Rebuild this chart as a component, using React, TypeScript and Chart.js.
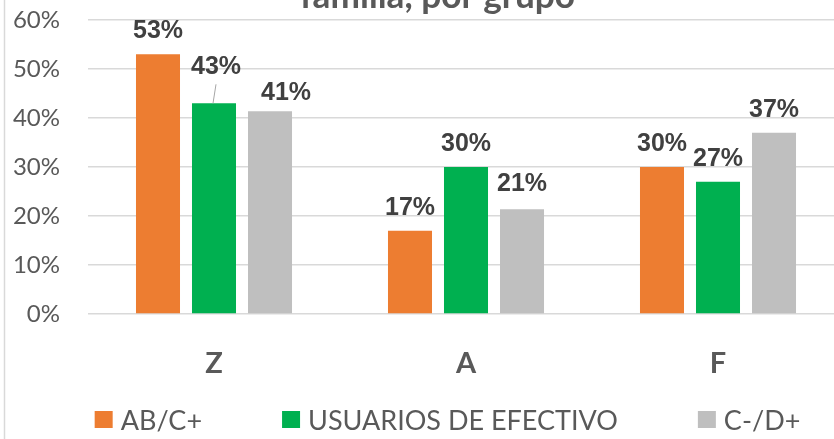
import React, { useEffect, useRef } from 'react';
import { Chart, registerables } from 'chart.js';

Chart.register(...registerables);

const categories = ['Z', 'A', 'F'];
const seriesNames = ['AB/C+', 'USUARIOS DE EFECTIVO', 'C-/D+'];
const abcPlus = [53, 17, 30];
const usuariosEfectivo = [43, 30, 27];
const cdPlus = [41.4, 21.4, 37];
const yMax = 60;
const yStep = 10;
const titleText = 'familia, por grupo';

const seriesColors = ['#ED7D31', '#00B050', '#BFBFBF'];
const AXIS_FONT = 'Lato';
const LABEL_FONT = '"Liberation Sans"';

// manual nudges of some data labels (as in the reference)
const labelNudge: Record<string, { dx: number; dy: number; leader?: boolean }> = {
  '1-0': { dx: 2, dy: -13, leader: true },
  '2-0': { dx: 16, dy: 5 },
  '2-1': { dx: 0, dy: -2 },
};

const CANVAS_W = 891;
const CANVAS_H = 439;

const decorPlugin = {
  id: 'decor',
  beforeDraw(chart: any) {
    const ctx = chart.ctx;
    ctx.save();
    ctx.strokeStyle = '#d9d9d9';
    ctx.lineWidth = 1.5;
    ctx.beginPath();
    ctx.moveTo(4.5, 0);
    ctx.lineTo(4.5, CANVAS_H);
    ctx.stroke();
    ctx.restore();
  },
  afterDatasetsDraw(chart: any) {
    const ctx = chart.ctx;
    ctx.save();
    ctx.font = `bold 25px ${LABEL_FONT}`;
    ctx.fillStyle = '#404040';
    ctx.textAlign = 'center';
    ctx.textBaseline = 'alphabetic';
    chart.data.datasets.forEach((ds: any, di: number) => {
      const meta = chart.getDatasetMeta(di);
      meta.data.forEach((el: any, i: number) => {
        const v = ds.data[i];
        const nudge = labelNudge[`${di}-${i}`] || { dx: 0, dy: 0 };
        const x = el.x + nudge.dx;
        const y = el.y - 16 + nudge.dy;
        ctx.fillText(`${Math.round(v)}%`, x, y);
        if (nudge.leader) {
          ctx.save();
          ctx.strokeStyle = '#a6a6a6';
          ctx.lineWidth = 1;
          ctx.beginPath();
          ctx.moveTo(el.x - 1, el.y);
          ctx.lineTo(x, y + 10);
          ctx.stroke();
          ctx.restore();
        }
      });
    });
    ctx.restore();
  },
  afterDraw(chart: any) {
    const ctx = chart.ctx;
    ctx.save();
    // title (only its lower line is visible)
    ctx.font = `bold 100px ${AXIS_FONT}`;
    const w100 = ctx.measureText(titleText).width;
    const size = (100 * 275) / w100;
    ctx.font = `bold ${size}px ${AXIS_FONT}`;
    ctx.fillStyle = '#595959';
    ctx.textAlign = 'center';
    ctx.textBaseline = 'alphabetic';
    ctx.fillText(titleText, 437.5, 8);

    // legend
    ctx.font = `27px ${AXIS_FONT}`;
    ctx.textAlign = 'left';
    ctx.textBaseline = 'middle';
    const box = 18;
    const gapText = 8;
    const gapItem = 80;
    const widths = chart.data.datasets.map((d: any) => box + gapText + ctx.measureText(d.label).width);
    const total = widths.reduce((a: number, b: number) => a + b, 0) + gapItem * (widths.length - 1);
    let x = 447.5 - total / 2;
    const cy = 420;
    chart.data.datasets.forEach((d: any, i: number) => {
      ctx.fillStyle = d.backgroundColor;
      ctx.fillRect(x, cy - 9, box, 17);
      ctx.fillStyle = '#595959';
      ctx.fillText(d.label, x + box + gapText, cy + 1);
      x += widths[i] + gapItem;
    });
    ctx.restore();
  },
};

export default function App() {
  const ref = useRef<HTMLCanvasElement | null>(null);
  useEffect(() => {
    if (!ref.current) return;
    const seriesData = [abcPlus, usuariosEfectivo, cdPlus];
    const chart = new Chart(ref.current, {
      type: 'bar',
      data: {
        labels: categories,
        datasets: seriesNames.map((name, i) => ({
          label: name,
          data: seriesData[i],
          backgroundColor: seriesColors[i],
          borderWidth: 0,
          categoryPercentage: 0.6667,
          barPercentage: 0.786,
        })),
      },
      options: {
        responsive: false,
        animation: false,
        devicePixelRatio: 1,
        layout: { padding: { left: 0, right: CANVAS_W - 844, top: 20, bottom: 0 } },
        plugins: {
          legend: { display: false },
          title: { display: false },
          tooltip: { enabled: false },
        },
        scales: {
          x: {
            grid: { display: false, drawTicks: false },
            border: { display: false },
            ticks: {
              color: '#595959',
              font: { family: AXIS_FONT, size: 29, weight: 'bold' },
              padding: 32,
            },
            afterFit: (s: any) => {
              s.height = CANVAS_H - 314;
              s.paddingLeft = 0;
              s.paddingRight = 0;
            },
          },
          y: {
            min: 0,
            max: yMax,
            grid: { color: '#d9d9d9', lineWidth: 1.5, drawTicks: false },
            border: { display: false },
            ticks: {
              stepSize: yStep,
              color: '#595959',
              font: { family: AXIS_FONT, size: 24 },
              padding: 28,
              callback: (v: any) => `${v}%`,
            },
            afterFit: (s: any) => {
              s.width = 88;
              s.paddingTop = 0;
              s.paddingBottom = 0;
            },
          },
        },
      },
      plugins: [decorPlugin],
    });
    return () => chart.destroy();
  }, []);
  return (
    <div
      style={{
        position: 'fixed',
        left: 0,
        top: 0,
        width: 834,
        height: 439,
        overflow: 'hidden',
        background: '#fff',
      }}
    >
      <canvas ref={ref} width={CANVAS_W} height={CANVAS_H} style={{ width: CANVAS_W, height: CANVAS_H, display: 'block' }} />
    </div>
  );
}
